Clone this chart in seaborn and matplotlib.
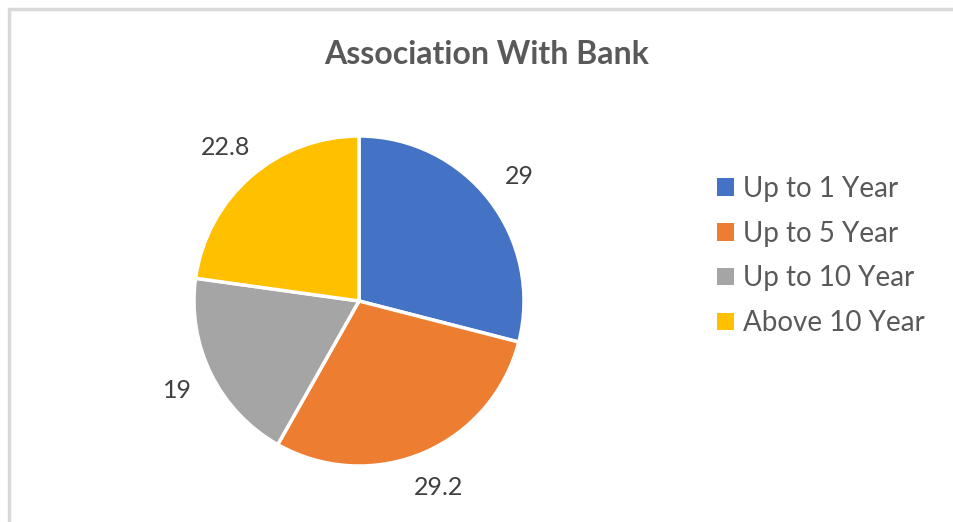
import matplotlib
matplotlib.use("Agg")
import matplotlib.pyplot as plt
import seaborn as sns
from matplotlib.lines import Line2D
from matplotlib.patches import Patch

sns.set_theme(style="white")
plt.rcParams['font.family'] = ['Lato', 'DejaVu Sans']

categories = ["Up to 1 Year", "Up to 5 Year", "Up to 10 Year", "Above 10 Year"]
values = [29, 29.2, 19, 22.8]
value_labels = ["29", "29.2", "19", "22.8"]
colors = ["#4472C4", "#ED7D31", "#A5A5A5", "#FFC000"]
title = "Association With Bank"

W, H = 954, 522
fig = plt.figure(figsize=(W / 100, H / 100), dpi=100)
fig.patch.set_facecolor("white")

# frame lines (top and left, as in the cropped screenshot)
fig.add_artist(Line2D([9 / W, 1], [1 - 9 / H, 1 - 9 / H], transform=fig.transFigure,
                      color="#d9d9d9", lw=2.5))
fig.add_artist(Line2D([9 / W, 9 / W], [0, 1 - 9 / H], transform=fig.transFigure,
                      color="#d9d9d9", lw=2.5))

cx, cy, r = 359, 301, 165
ax = fig.add_axes([(cx - r) / W, (H - cy - r) / H, 2 * r / W, 2 * r / H])
wedges, texts = ax.pie(values, labels=value_labels, colors=colors, startangle=90,
                       counterclock=False, labeldistance=1.23,
                       wedgeprops=dict(edgecolor="white", linewidth=2.5),
                       textprops=dict(fontsize=18, color="#404040"))
for t in texts:
    t.set_ha("center")
    t.set_va("center")
ax.set_aspect("equal")
ax.set_xlim(-1.0, 1.0)
ax.set_ylim(-1.0, 1.0)
ax.axis("off")

fig.text(487 / W, 1 - 55 / H, title, ha="center", va="center", fontsize=23,
         fontweight="bold", color="#595959")

handles = [Patch(facecolor=c, edgecolor="none") for c in colors]
leg = fig.legend(handles, categories, loc="center left",
                 bbox_to_anchor=(706 / W, 1 - 256 / H), frameon=False,
                 fontsize=20, handlelength=0.6, handleheight=0.6,
                 handletextpad=0.35, labelspacing=0.68, labelcolor="#595959",
                 borderaxespad=0, borderpad=0.4)

fig.savefig("out.png", dpi=100, facecolor="white")
